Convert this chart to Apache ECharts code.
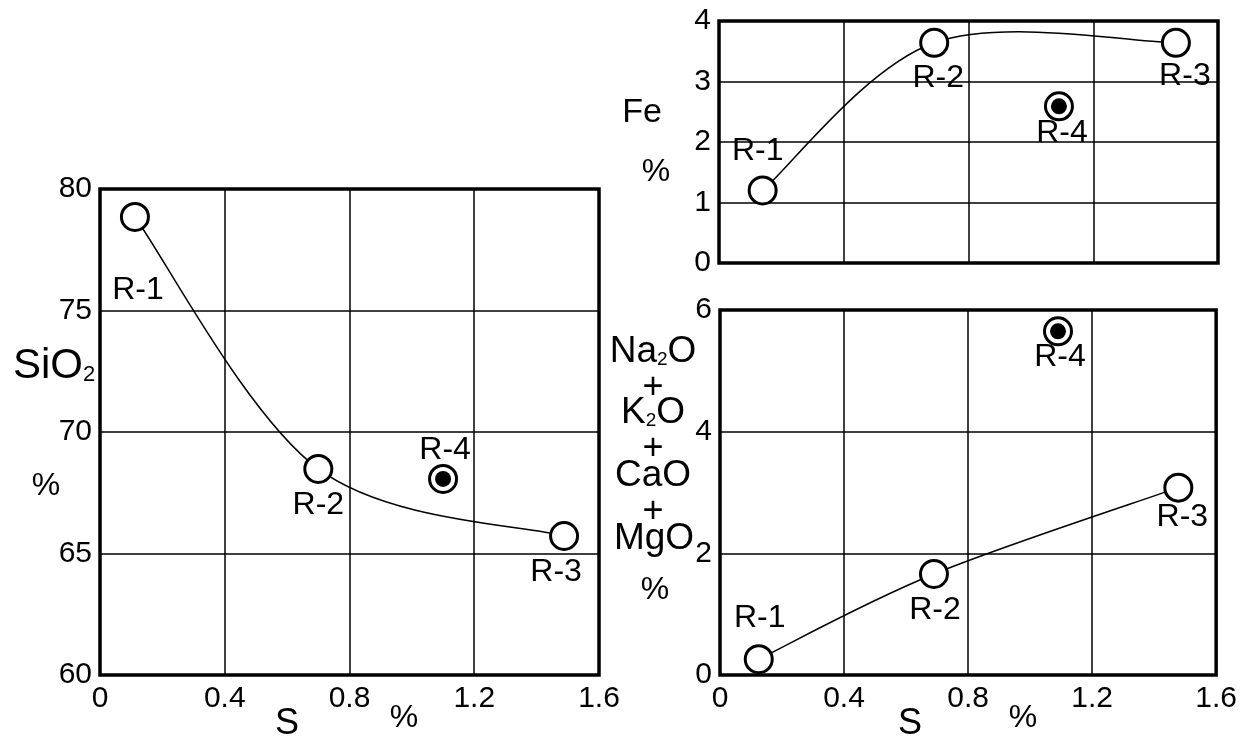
<!DOCTYPE html>
<html>
<head>
<meta charset="utf-8">
<script src="https://cdn.jsdelivr.net/npm/echarts@6/dist/echarts.min.js"></script>
<style>
  html, body { margin: 0; padding: 0; background: #fff; }
  #main { width: 1240px; height: 739px; }
</style>
</head>
<body>
<div id="main"></div>
<script>
// samples
const samples = ['R-1', 'R-2', 'R-3', 'R-4'];
const sTicks = [0, 0.4, 0.8, 1.2, 1.6];

// SiO2 vs S (left)
const sioS = [0.112, 0.70, 1.488, 1.10];
const sio2 = [78.85, 68.48, 65.72, 68.07];

// Fe vs S (top right)
const feS = [0.14, 0.69, 1.465, 1.09];
const fe = [1.20, 3.64, 3.64, 2.59];

// Na2O+K2O+CaO+MgO vs S (bottom right)
const alkS = [0.125, 0.69, 1.478, 1.09];
const alk = [0.26, 1.66, 3.08, 5.65];

// where the R-n names sit round each mark
const sioLabelOff = [[3, 73], [0, 36], [-8, 36], [2, -29]];
const feLabelOff = [[-5, -39], [4, 35], [9, 33], [3, 27]];
const alkLabelOff = [[1, -41], [1, 36], [4, 30], [2, 26]];

const FONT = 'Liberation Sans';

// hand-drawn looking curve through R-1..R-3 (catmull-rom on screen coords)
function curveSeries(gi, xs, ys) {
  return {
    type: 'custom', xAxisIndex: gi, yAxisIndex: gi, z: 2, silent: true,
    data: [[xs[0], ys[0]]],
    renderItem: function (params, api) {
      const p = xs.slice(0, 3).map((x, i) => api.coord([x, ys[i]]));
      let d = 'M' + p[0][0] + ' ' + p[0][1];
      for (let i = 0; i < p.length - 1; i++) {
        const p0 = p[i - 1] || p[i], p1 = p[i], p2 = p[i + 1], p3 = p[i + 2] || p[i + 1];
        const c1 = [p1[0] + (p2[0] - p0[0]) / 6, p1[1] + (p2[1] - p0[1]) / 6];
        const c2 = [p2[0] - (p3[0] - p1[0]) / 6, p2[1] - (p3[1] - p1[1]) / 6];
        d += ' C' + c1[0] + ' ' + c1[1] + ' ' + c2[0] + ' ' + c2[1] + ' ' + p2[0] + ' ' + p2[1];
      }
      return {
        type: 'path',
        shape: { pathData: d },
        style: { stroke: '#000', fill: null, lineWidth: 1.5 }
      };
    }
  };
}

function panelSeries(gi, xs, ys, offs) {
  const pts = xs.map((x, i) => ({
    value: [x, ys[i]],
    name: samples[i],
    label: { offset: offs[i] }
  }));
  const lbl = {
    show: true, position: 'inside', formatter: '{b}',
    color: '#000', fontSize: 32, fontFamily: FONT
  };
  const ring = { color: '#fff', borderColor: '#000', borderWidth: 3, opacity: 1 };
  return [
    curveSeries(gi, xs, ys),
    {
      type: 'scatter', xAxisIndex: gi, yAxisIndex: gi,
      data: pts.slice(0, 3), symbol: 'circle', symbolSize: 27, z: 3,
      itemStyle: ring, label: lbl
    },
    {
      type: 'scatter', xAxisIndex: gi, yAxisIndex: gi,
      data: pts.slice(3), symbol: 'circle', symbolSize: 27, z: 3,
      itemStyle: ring, label: lbl
    },
    {
      type: 'scatter', xAxisIndex: gi, yAxisIndex: gi,
      data: pts.slice(3).map(p => p.value), symbol: 'circle', symbolSize: 16, z: 4,
      itemStyle: { color: '#000', opacity: 1 }
    }
  ];
}

function xAx(gi, showLabels) {
  return {
    type: 'value', gridIndex: gi, min: sTicks[0], max: sTicks[sTicks.length - 1], interval: 0.4,
    axisLine: { show: false }, axisTick: { show: false },
    axisLabel: { show: showLabels, color: '#000', fontSize: 30, fontFamily: FONT, margin: 9 },
    splitLine: { show: true, lineStyle: { color: '#000', width: 1.5 } }
  };
}
function yAx(gi, min, max, step) {
  return {
    type: 'value', gridIndex: gi, min: min, max: max, interval: step,
    axisLine: { show: false }, axisTick: { show: false },
    axisLabel: { color: '#000', fontSize: 30, fontFamily: FONT, margin: 8 },
    splitLine: { show: true, lineStyle: { color: '#000', width: 1.5 } }
  };
}

function txt(s, x, y, size) {
  return {
    type: 'text', x: x, y: y, z: 10,
    style: { text: s, fill: '#000', fontSize: size, fontFamily: FONT,
             textAlign: 'center', textVerticalAlign: 'middle' }
  };
}
function richTxt(s, x, y, rich) {
  return {
    type: 'text', x: x, y: y, z: 10,
    style: { text: s, fill: '#000', fontFamily: FONT, rich: rich,
             textAlign: 'center', textVerticalAlign: 'middle' }
  };
}

const chart = echarts.init(document.getElementById('main'));
chart.setOption({
  animation: false,
  backgroundColor: '#fff',
  textStyle: { fontFamily: FONT },
  grid: [
    { left: 100, top: 189, width: 499, height: 486, show: true, borderColor: '#000', borderWidth: 3.5, backgroundColor: 'transparent' },
    { left: 719, top: 21, width: 499, height: 242, show: true, borderColor: '#000', borderWidth: 3.5, backgroundColor: 'transparent' },
    { left: 720, top: 310, width: 498, height: 365, show: true, borderColor: '#000', borderWidth: 3.5, backgroundColor: 'transparent' }
  ],
  xAxis: [xAx(0, true), xAx(1, false), xAx(2, true)],
  yAxis: [yAx(0, 60, 80, 5), yAx(1, 0, 4, 1), yAx(2, 0, 6, 2)],
  series: [].concat(
    panelSeries(0, sioS, sio2, sioLabelOff),
    panelSeries(1, feS, fe, feLabelOff),
    panelSeries(2, alkS, alk, alkLabelOff)
  ),
  graphic: [
    // left axis names
    richTxt('{m|SiO}{s|2}', 54, 366, {
      m: { fontSize: 42, fontFamily: FONT, verticalAlign: 'bottom' },
      s: { fontSize: 22, fontFamily: FONT, verticalAlign: 'bottom', padding: [0, 0, 1, 0] }
    }),
    txt('%', 46, 486, 32),
    txt('S', 287, 724, 36),
    txt('%', 404, 718, 32),
    // top right
    txt('Fe', 642, 113, 34),
    txt('%', 656, 172, 32),
    // bottom right (the y tick "2" doubles as the subscript of MgO)
    richTxt('{m|Na}{s|2}{m|O}', 653, 352, {
      m: { fontSize: 37, fontFamily: FONT, verticalAlign: 'bottom' },
      s: { fontSize: 19, fontFamily: FONT, verticalAlign: 'bottom', padding: [0, 0, 1, 0] }
    }),
    txt('+', 653, 388, 36),
    richTxt('{m|K}{s|2}{m|O}', 653, 413, {
      m: { fontSize: 37, fontFamily: FONT, verticalAlign: 'bottom' },
      s: { fontSize: 19, fontFamily: FONT, verticalAlign: 'bottom', padding: [0, 0, 1, 0] }
    }),
    txt('+', 653, 449, 36),
    txt('CaO', 653, 476, 37),
    txt('+', 653, 512, 36),
    txt('MgO', 654, 539, 37),
    txt('%', 655, 590, 32),
    txt('S', 910, 724, 36),
    txt('%', 1023, 718, 32)
  ]
});
</script>
</body>
</html>
